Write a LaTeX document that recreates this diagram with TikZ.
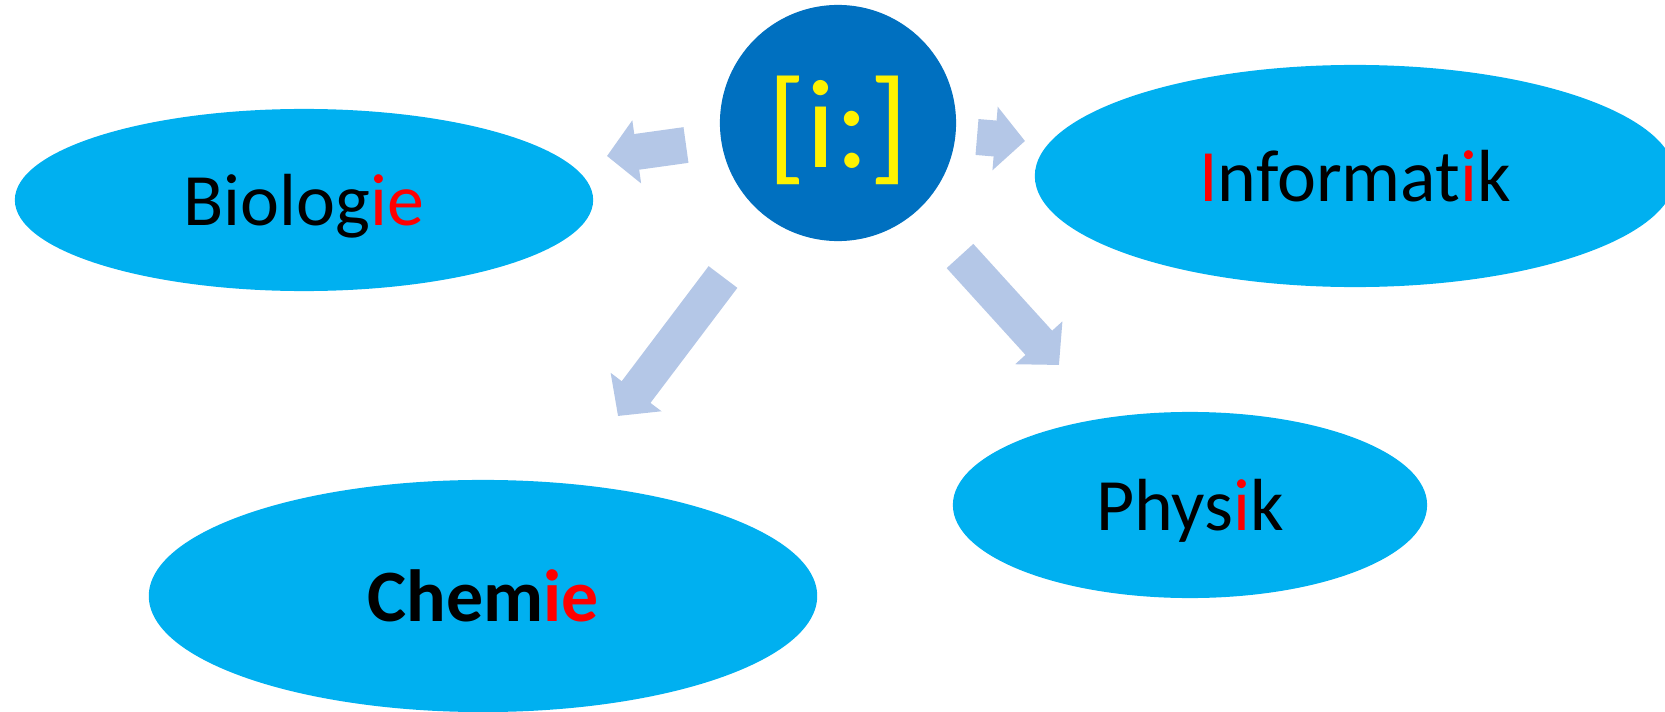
\documentclass[tikz,border=0pt]{standalone}
\usepackage{fontspec}
\setmainfont{Carlito}
\usetikzlibrary{arrows.meta}
\usetikzlibrary{shapes.geometric}

\definecolor{topicblue}{HTML}{00B0F0}
\definecolor{hubblue}{HTML}{0070C0}
\definecolor{arrowblue}{HTML}{B4C7E7}

\begin{document}
\begin{tikzpicture}[x=.01cm, y=-.01cm,
  topic/.style={ellipse, fill=topicblue, inner sep=0pt, text depth=0pt, font=\fontsize{21}{25}\selectfont},
  fatarrow/.style={arrowblue, line width=.36cm, -{Triangle[length=.30cm, width=.62cm]}}]

\useasboundingbox (0,0) rectangle (1665,712);

\node[circle, fill=hubblue, minimum size=2.36cm, inner sep=0pt, text=yellow, font=\fontsize{36}{42}\selectfont] (hub) at (838,123) {\raisebox{-.075cm}[\height][\depth]{[i:]}};

\node[topic, minimum width=5.78cm, minimum height=1.82cm] (bio) at (304,200) {Biolog\textcolor{red}{ie}};
\node[topic, minimum width=6.4cm, minimum height=2.22cm] (info) at (1355,176) {\textcolor{red}{I}nformat\textcolor{red}{i}k};
\node[topic, minimum width=6.68cm, minimum height=2.32cm, font=\fontsize{21}{25}\selectfont\bfseries] (chem) at (483,596) {Chem\textcolor{red}{ie}};
\node[topic, minimum width=4.74cm, minimum height=1.86cm] (phys) at (1190,505) {Phys\textcolor{red}{i}k};

% block arrows from the hub
\coordinate (bio-tail) at (686,145);  \coordinate (bio-tip) at (607,156);
\coordinate (info-tail) at (977,137); \coordinate (info-tip) at (1025,141);
\coordinate (chem-tail) at (723,277); \coordinate (chem-tip) at (618,416);
\coordinate (phys-tail) at (960,256); \coordinate (phys-tip) at (1059,365);
\foreach \a in {bio, info, chem, phys}
  \draw[fatarrow] (\a-tail) -- (\a-tip);

\end{tikzpicture}
\end{document}
